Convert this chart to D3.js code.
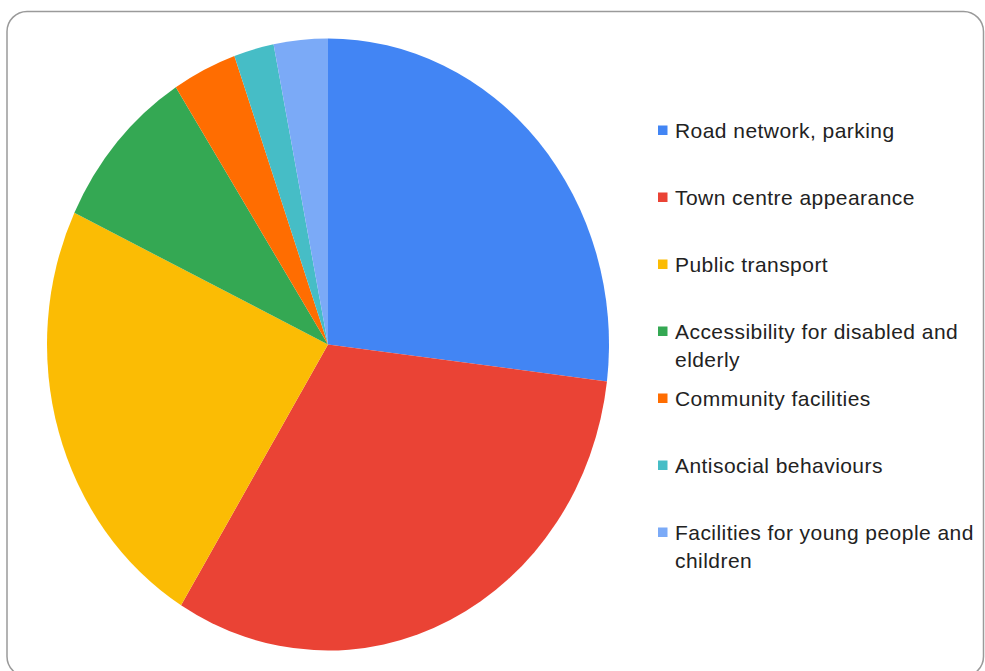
<!DOCTYPE html>
<html>
<head>
<meta charset="utf-8">
<script src="https://cdn.jsdelivr.net/npm/d3@7"></script>
<style>
  html, body { margin: 0; padding: 0; background: #fff; }
  svg { display: block; }
</style>
</head>
<body>
<svg id="chart" width="985" height="671"></svg>
<script>
const categories = [
  "Road network, parking",
  "Town centre appearance",
  "Public transport",
  "Accessibility for disabled and elderly",
  "Community facilities",
  "Antisocial behaviours",
  "Facilities for young people and children"
];
const values = [26.9, 31.8, 23.3, 8.8, 3.7, 2.3, 3.1];
const colors = ["#4285F4", "#EA4335", "#FBBC04", "#34A853", "#FF6D01", "#46BDC6", "#7BAAF7"];
const legendLines = [
  ["Road network, parking"],
  ["Town centre appearance"],
  ["Public transport"],
  ["Accessibility for disabled and", "elderly"],
  ["Community facilities"],
  ["Antisocial behaviours"],
  ["Facilities for young people and", "children"]
];

const svg = d3.select("#chart");

// card border
svg.append("rect")
  .attr("x", 7).attr("y", 11.5)
  .attr("width", 976.5).attr("height", 665)
  .attr("rx", 20).attr("ry", 20)
  .attr("fill", "#fff")
  .attr("stroke", "#9a9a9a")
  .attr("stroke-width", 1.5);

// pie
const cx = 328, cy = 344.5, rx = 281, ry = 306;
const data = categories.map((c, i) => ({ name: c, value: values[i], color: colors[i] }));
const pie = d3.pie().sort(null).value(d => d.value).startAngle(0).endAngle(2 * Math.PI);
const arc = d3.arc().innerRadius(0).outerRadius(ry);

const g = svg.append("g")
  .attr("transform", `translate(${cx},${cy}) scale(${rx / ry},1)`);
g.selectAll("path")
  .data(pie(data))
  .join("path")
  .attr("d", arc)
  .attr("fill", d => d.data.color);

// legend
const colorScale = d3.scaleOrdinal().domain(categories).range(colors);
const legendY = d3.scalePoint().domain(categories).range([138, 540]);
const lg = svg.append("g").attr("font-family", "Arial, 'Liberation Sans', sans-serif")
  .attr("font-size", 21).attr("letter-spacing", 0.45).attr("fill", "#222");

categories.forEach((c, i) => {
  const y = legendY(c);
  lg.append("rect")
    .attr("x", 658).attr("y", y - 12.5)
    .attr("width", 9.5).attr("height", 9.5)
    .attr("fill", colorScale(c));
  const t = lg.append("text").attr("x", 675).attr("y", y);
  legendLines[i].forEach((line, j) => {
    t.append("tspan").attr("x", 675).attr("y", y + j * 28).text(line);
  });
});
</script>
</body>
</html>
